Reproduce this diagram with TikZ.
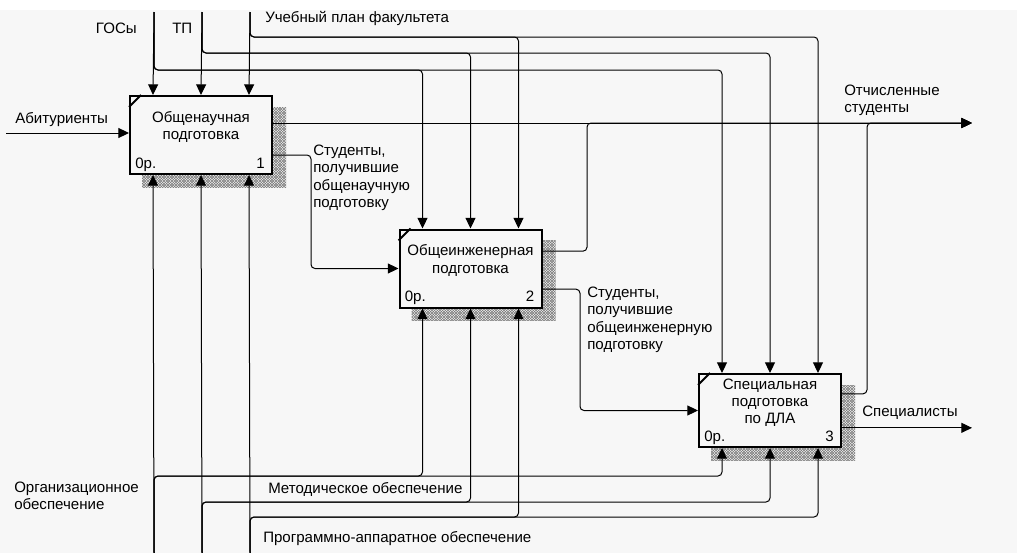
\documentclass[tikz,border=0pt]{standalone}
\usepackage{fontspec}
\setmainfont{Liberation Sans}
\usepackage{tikz}
\usetikzlibrary{positioning,arrows.meta,calc,patterns,backgrounds}

\definecolor{ink}   {HTML}{000000}
\definecolor{paper} {HTML}{F7F7F7}
\definecolor{hatch} {HTML}{7A7A7A}

% fine cross-hatching for the box shadows
\pgfdeclarepatternformonly{finehatch}{\pgfqpoint{-0.5pt}{-0.5pt}}{\pgfqpoint{2.5pt}{2.5pt}}{\pgfqpoint{2pt}{2pt}}{%
  \pgfsetlinewidth{0.4pt}%
  \pgfpathmoveto{\pgfqpoint{0pt}{0pt}}\pgfpathlineto{\pgfqpoint{2pt}{2pt}}%
  \pgfpathmoveto{\pgfqpoint{0pt}{2pt}}\pgfpathlineto{\pgfqpoint{2pt}{0pt}}%
  \pgfusepath{stroke}}

\tikzset{
  >={Triangle[length=8pt,width=7.5pt]},
  every node/.style={font=\fontsize{11.3}{12.9}\selectfont, text=ink},
  % --- nodes
  func/.style    = {draw=ink, line width=1.5pt, fill=paper, minimum width=106.5pt,
                    minimum height=58.5pt, inner sep=0pt},
  ftext/.style   = {align=center, inner sep=0pt},
  tag/.style     = {inner sep=0pt},
  lbl/.style     = {align=left, inner sep=0pt, anchor=north west},
  hatched/.style = {pattern=finehatch, pattern color=hatch},
  % --- edges
  e/.style       = {->, line width=0.75pt, draw=ink, rounded corners=3pt},
  notch/.style   = {line width=1.5pt, draw=ink},
}

\begin{document}
\begin{tikzpicture}[x=0.75pt,y=-0.75pt]
  \useasboundingbox (0,0) rectangle (1017,553);

  % --- functions
  \node[func] (f1) at (201,135) {};
  \node[func] (f2) at (470.5,268.5) {};
  \node[func, minimum height=54.75pt] (f3) at (770,410.5) {};

  \node[ftext] (t1) at ([yshift=6pt]f1.center) {Общенаучная\\подготовка};
  \node[ftext] (t2) at ([yshift=6pt]f2.center) {Общеинженерная\\подготовка};
  \node[ftext] (t3) at ([yshift=6pt]f3.center) {Специальная\\подготовка\\по ДЛА};

  \foreach \i in {1,2,3}{
    \node[tag, anchor=base west] (cost\i) at ([shift={(6,-7)}]f\i.south west) {0р.};
    \node[tag, anchor=base east] (num\i)  at ([shift={(-8,-7)}]f\i.south east) {\i};
    \draw[notch] ([yshift=-9pt]f\i.north west) -- ([xshift=9pt]f\i.north west);
    \coordinate (ctl\i1) at ([xshift=18pt]f\i.north west);
    \coordinate (ctl\i2) at ([xshift=54pt]f\i.north west);
    \coordinate (ctl\i3) at ([xshift=90pt]f\i.north west);
    \coordinate (mec\i1) at ([xshift=18pt]f\i.south west);
    \coordinate (mec\i2) at ([xshift=54pt]f\i.south west);
    \coordinate (mec\i3) at ([xshift=90pt]f\i.south west);
  }
  \coordinate (out11) at ([yshift=9pt]f1.east);
  \coordinate (out12) at ([yshift=-15pt]f1.east);
  \coordinate (out21) at ([yshift=13pt]f2.east);
  \coordinate (out22) at ([yshift=-15.5pt]f2.east);
  \coordinate (out31) at ([yshift=12.5pt]f3.east);
  \coordinate (out32) at ([yshift=-13pt]f3.east);

  % --- free ends, rails and bends
  \coordinate (gos)  at (154,12);
  \coordinate (tp)   at (202,12);
  \coordinate (plan) at (250,12);
  \coordinate (org)  at (154,553);
  \coordinate (met)  at (202,553);
  \coordinate (prog) at (250,553);
  \coordinate (abit) at (6,133);
  \coordinate (otch) at (972,123);
  \coordinate (spec) at (972,428);
  \coordinate (r1) at (0,70);  \coordinate (r2) at (0,53);  \coordinate (r3) at (0,37);
  \coordinate (q1) at (0,476); \coordinate (q2) at (0,502); \coordinate (q3) at (0,517);
  \coordinate (k1) at (311,0); \coordinate (k2) at (580,0);
  \coordinate (k3) at (587,0); \coordinate (k4) at (867,0);

  % --- labels
  \node[lbl, anchor=north east] (lgos) at (137,23) {ГОСы};
  \node[lbl] (ltp)   at (172,23)  {ТП};
  \node[lbl] (lplan) at (265,11)  {Учебный план факультета};
  \node[lbl] (labit) at (15,112)  {Абитуриенты};
  \node[lbl] (ls1)   at (313,145) {Студенты,\\получившие\\общенаучную\\подготовку};
  \node[lbl] (ls2)   at (587,287) {Студенты,\\получившие\\общеинженерную\\подготовку};
  \node[lbl] (lotch) at (844,85)  {Отчисленные\\студенты};
  \node[lbl] (lspec) at (862,406) {Специалисты};
  \node[lbl] (lorg)  at (14,482)  {Организационное\\обеспечение};
  \node[lbl] (lmet)  at (268,482) {Методическое обеспечение};
  \node[lbl] (lprog) at (263,531) {Программно-аппаратное обеспечение};

  % --- controls
  \draw[e] (gos)  -- (ctl11);
  \draw[e] (gos)  |- (ctl21 |- r1) -- (ctl21);
  \draw[e] (gos)  |- (ctl31 |- r1) -- (ctl31);
  \draw[e] (tp)   -- (ctl12);
  \draw[e] (tp)   |- (ctl22 |- r2) -- (ctl22);
  \draw[e] (tp)   |- (ctl32 |- r2) -- (ctl32);
  \draw[e] (plan) -- (ctl13);
  \draw[e] (plan) |- (ctl23 |- r3) -- (ctl23);
  \draw[e] (plan) |- (ctl33 |- r3) -- (ctl33);

  % --- mechanisms
  \draw[e] (org)  -- (mec11);
  \draw[e] (org)  |- (mec21 |- q1) -- (mec21);
  \draw[e] (org)  |- (mec31 |- q1) -- (mec31);
  \draw[e] (met)  -- (mec12);
  \draw[e] (met)  |- (mec22 |- q2) -- (mec22);
  \draw[e] (met)  |- (mec32 |- q2) -- (mec32);
  \draw[e] (prog) -- (mec13);
  \draw[e] (prog) |- (mec23 |- q3) -- (mec23);
  \draw[e] (prog) |- (mec33 |- q3) -- (mec33);

  % --- inputs and outputs
  \draw[e] (abit) -- (abit -| f1.west);
  \draw[e] (out11) -- (otch);
  \draw[e] (out21) -| (k3 |- otch) -- (otch);
  \draw[e] (out31) -| (k4 |- otch) -- (otch);
  \draw[e] (out12) -| (k1 |- f2.west) -- (f2.west);
  \draw[e] (out22) -| (k2 |- f3.west) -- (f3.west);
  \draw[e] (out32) -- (spec |- out32);

  \begin{scope}[on background layer]
    \fill[white] (0,0) rectangle (1017,553);
    \fill[paper] (0,10) rectangle (1017,553);
    \foreach \i in {1,2,3}
      \fill[hatched] ([shift={(13,12)}]f\i.north west) rectangle ([shift={(13,12)}]f\i.south east);
  \end{scope}
\end{tikzpicture}
\end{document}
